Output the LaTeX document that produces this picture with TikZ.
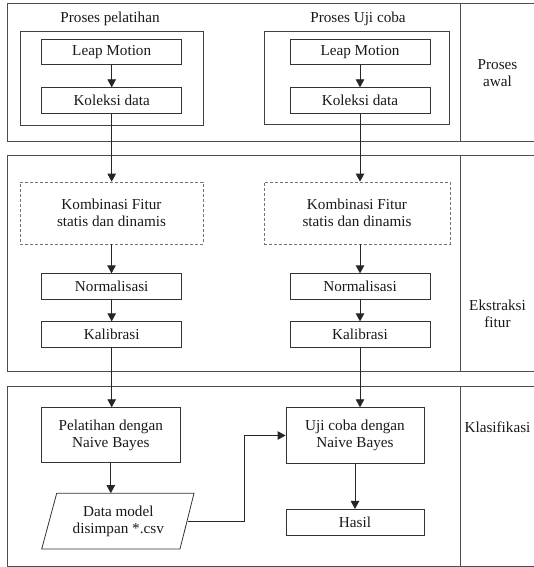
\documentclass[tikz,border=0pt]{standalone}
\usepackage{fontspec}
\setmainfont{Liberation Serif}
\usetikzlibrary{arrows.meta,calc}
\begin{document}
\begin{tikzpicture}[x=1pt,y=-1pt,
  every node/.style={font=\fontsize{15.2}{17.5}\selectfont, align=center, inner sep=0pt, text=black!90},
  panel/.style={draw=black!70, line width=1pt},
  box/.style={draw=black!80, line width=0.8pt, minimum width=140pt, minimum height=25.5pt},
  grp/.style={draw=black!75, line width=0.8pt},
  dbox/.style={draw=black!55, line width=0.7pt, dash pattern=on 3pt off 2pt},
  arr/.style={draw=black!85, line width=0.8pt, -{Triangle[width=8.5pt,length=8pt]}},
  lbl/.style={}
]
\useasboundingbox (0,0) rectangle (533,567);
% panels
\draw[panel] (534,4) -- (7.3,4) -- (7.3,141) -- (534,141);
\draw[panel] (460.5,4) -- (460.5,141);
\draw[panel] (534,155) -- (7.3,155) -- (7.3,371) -- (534,371);
\draw[panel] (460.5,155) -- (460.5,371);
\draw[panel] (534,386) -- (7.3,386) -- (7.3,566) -- (534,566);
\draw[panel] (460.5,386) -- (460.5,566);
% right labels
\node[lbl] (lab1) at (497.5,73) {Proses\\awal};
\node[lbl] (lab2) at (497.5,314) {Ekstraksi\\fitur};
\node[lbl] (lab3) at (497.5,427) {Klasifikasi};
% groups
\node[grp, minimum width=183pt, minimum height=94pt] (grpL) at (111.5,78) {};
\node[grp, minimum width=185pt, minimum height=93pt] (grpR) at (356.5,77.5) {};
\node (titL) at (110,19) {Proses pelatihan};
\node (titR) at (358,19) {Proses Uji coba};
% left column
\node[box] (leapL) at (111.7,52) {Leap Motion};
\node[box] (kolL) at (111.7,100.5) {Koleksi data};
\node[dbox, minimum width=183pt, minimum height=62pt] (kombL) at (111.5,213) {Kombinasi Fitur\\statis dan dinamis};
\node[box] (normL) at (111.7,286.5) {Normalisasi};
\node[box] (kalL) at (111.7,334.5) {Kalibrasi};
\node[box, minimum width=138.3pt, minimum height=55pt] (pelL) at (110.8,435.2) {Pelatihan dengan\\Naive Bayes};
\node[minimum width=138pt, minimum height=55.7pt] (data) at (118.3,521.2) {Data model\\disimpan *.csv};
\draw[draw=black!80, line width=0.8pt] (41.7,549) -- (56.7,493.3) -- (194,493.3) -- (180,549) -- cycle;
% right column
\node[box] (leapR) at (360,52) {Leap Motion};
\node[box] (kolR) at (360,100.5) {Koleksi data};
\node[dbox, minimum width=186pt, minimum height=62pt] (kombR) at (357,213) {Kombinasi Fitur\\statis dan dinamis};
\node[box] (normR) at (360,286.5) {Normalisasi};
\node[box] (kalR) at (360,334.5) {Kalibrasi};
\node[box, minimum width=138pt, minimum height=55.6pt] (ujiR) at (355,435.5) {Uji coba dengan\\Naive Bayes};
\node[box, minimum width=138pt, minimum height=25.7pt] (hasil) at (355,522.2) {Hasil};
% arrows left
\draw[arr] (leapL.south) -- (kolL.north);
\draw[arr] (kolL.south) -- (kolL.south |- kombL.north);
\draw[arr] (kombL.south) -- (kombL.south |- normL.north);
\draw[arr] (normL.south) -- (kalL.north);
\draw[arr] (kalL.south) -- (kalL.south |- pelL.north);
\draw[arr] (pelL.south) -- (pelL.south |- data.north);
% arrows right
\draw[arr] (leapR.south) -- (kolR.north);
\draw[arr] (kolR.south) -- (kolR.south |- kombR.north);
\draw[arr] (kombR.south -| kolR.south) -- (kolR.south |- normR.north);
\draw[arr] (normR.south) -- (kalR.north);
\draw[arr] (kalR.south) -- (kalR.south |- ujiR.north);
\draw[arr] (ujiR.south) -- (hasil.north);
\coordinate (bend) at (244,521.2);
\draw[arr] (data.east) -- (bend) |- (ujiR.west);
\end{tikzpicture}
\end{document}
